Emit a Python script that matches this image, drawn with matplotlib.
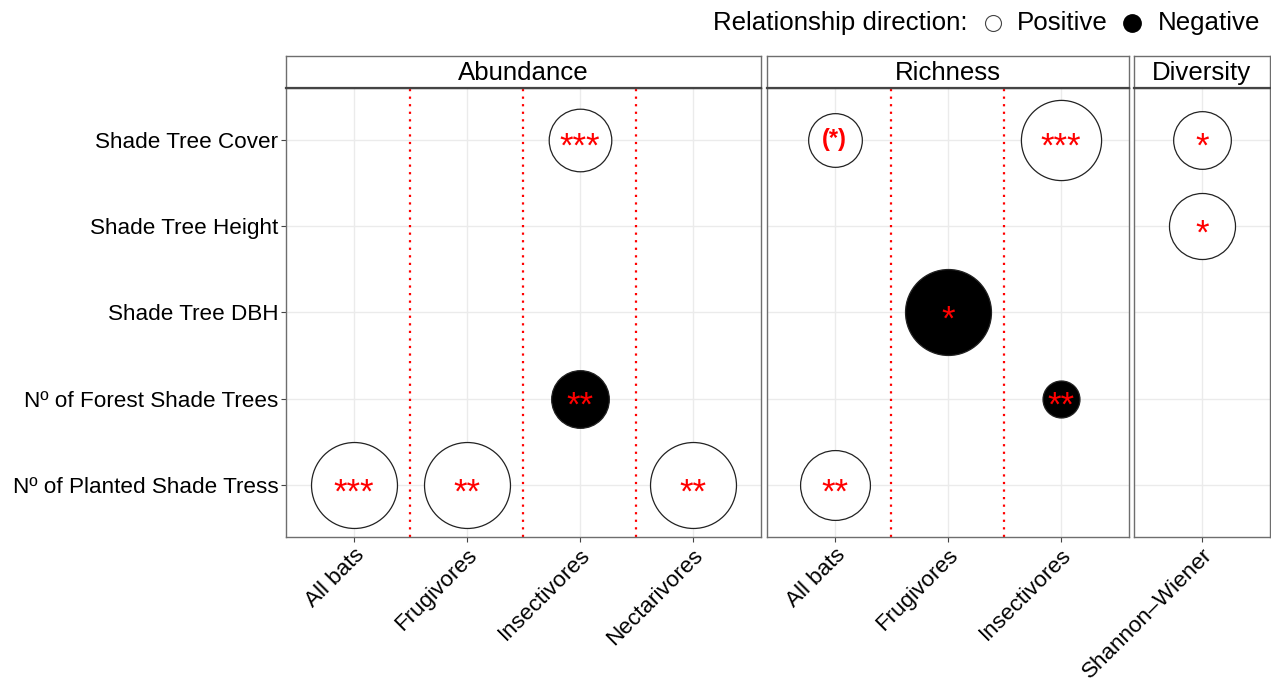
import matplotlib.pyplot as plt
from matplotlib.transforms import ScaledTranslation

plt.rcParams['font.family'] = ['Liberation Sans', 'DejaVu Sans']

# facets and their categories
panels = ['Abundance', 'Richness', 'Diversity']
panel_groups = {
    'Abundance': ['All bats', 'Frugivores', 'Insectivores', 'Nectarivores'],
    'Richness': ['All bats', 'Frugivores', 'Insectivores'],
    'Diversity': ['Shannon\u2013Wiener'],
}
predictors = ['Shade Tree Cover', 'Shade Tree Height', 'Shade Tree DBH',
              'N\u00ba of Forest Shade Trees', 'N\u00ba of Planted Shade Tress']

# significant relationships
pt_panel = ['Abundance', 'Abundance', 'Abundance', 'Abundance', 'Abundance',
            'Richness', 'Richness', 'Richness', 'Richness', 'Richness',
            'Diversity', 'Diversity']
pt_group = ['Insectivores', 'Insectivores', 'All bats', 'Frugivores', 'Nectarivores',
            'All bats', 'Insectivores', 'Frugivores', 'Insectivores', 'All bats',
            'Shannon\u2013Wiener', 'Shannon\u2013Wiener']
pt_predictor = ['Shade Tree Cover', 'N\u00ba of Forest Shade Trees',
                'N\u00ba of Planted Shade Tress', 'N\u00ba of Planted Shade Tress',
                'N\u00ba of Planted Shade Tress',
                'Shade Tree Cover', 'Shade Tree Cover', 'Shade Tree DBH',
                'N\u00ba of Forest Shade Trees', 'N\u00ba of Planted Shade Tress',
                'Shade Tree Cover', 'Shade Tree Height']
pt_direction = ['Positive', 'Negative', 'Positive', 'Positive', 'Positive',
                'Positive', 'Positive', 'Negative', 'Negative', 'Positive',
                'Positive', 'Positive']
pt_magnitude = [0.53, 0.45, 1.0, 1.0, 1.0,
                0.39, 0.87, 1.0, 0.185, 0.66,
                0.45, 0.59]
pt_signif = ['***', '**', '***', '**', '**',
             '(*)', '***', '*', '**', '**',
             '*', '*']

W, H = 1271, 678
fig = plt.figure(figsize=(W / 100, H / 100), dpi=100)

panel_left = {'Abundance': 286, 'Richness': 767, 'Diversity': 1134}
unit_px = 113
top_px, bottom_px = 88, 537
strip_top = 56
max_area = 3830
border_col = '#6e6e6e'
grid_col = '#ebebeb'
fs = 16.2      # axis labels
fs_big = 18.6  # strips and legend

ny = len(predictors)
ymap = {p: ny - i for i, p in enumerate(predictors)}
down = ScaledTranslation(0, -4 / 100, fig.dpi_scale_trans)

for k, pan in enumerate(panels):
    groups = panel_groups[pan]
    n = len(groups)
    wpx = (n + 0.2) * unit_px
    l = panel_left[pan]
    ax = fig.add_axes([l / W, 1 - bottom_px / H, wpx / W, (bottom_px - top_px) / H])
    ax.set_xlim(0.4, n + 0.6)
    ax.set_ylim(0.4, ny + 0.6)
    ax.set_xticks(range(1, n + 1))
    ax.set_xticklabels(groups, rotation=45, ha='right', va='top',
                       rotation_mode='anchor', fontsize=fs)
    ax.set_yticks([ymap[p] for p in predictors])
    ax.tick_params(colors='#444444', labelcolor='black', length=3.5, width=0.8, pad=2)
    if k == 0:
        ax.set_yticklabels(predictors, fontsize=fs)
    else:
        ax.set_yticklabels([])
        ax.tick_params(axis='y', length=0)
    ax.grid(True, color=grid_col, lw=1.0, zorder=0)
    ax.set_axisbelow(True)
    for s in ax.spines.values():
        s.set_color(border_col)
        s.set_linewidth(1.0)
    if n > 1:
        for b in range(1, n):
            ax.axvline(b + 0.5, color='red', ls=(0, (1, 2.4)), lw=1.6, zorder=1)

    xmap = {g: i + 1 for i, g in enumerate(groups)}
    for pp, g, pr, d, m, sg in zip(pt_panel, pt_group, pt_predictor,
                                   pt_direction, pt_magnitude, pt_signif):
        if pp != pan:
            continue
        x, y = xmap[g], ymap[pr]
        face = 'black' if d == 'Negative' else 'white'
        ax.scatter([x], [y], s=max_area * m, facecolor=face, edgecolor='#222222',
                   linewidth=0.9, zorder=3)
        if sg == '(*)':
            ax.text(x, y, sg, color='red', fontsize=17, fontweight='bold',
                    ha='center', va='center', zorder=4)
        else:
            ax.text(x, y, sg, color='red', fontsize=25, ha='center',
                    va='center_baseline', zorder=4, transform=ax.transData + down)

    # strip
    sax = fig.add_axes([l / W, 1 - top_px / H, wpx / W, (top_px - strip_top) / H])
    sax.set_xticks([])
    sax.set_yticks([])
    for s in sax.spines.values():
        s.set_color(border_col)
        s.set_linewidth(1.0)
    sax.spines['bottom'].set_color('#444444')
    sax.spines['bottom'].set_linewidth(1.6)
    sax.text(0.5, 0.47, pan, ha='center', va='center', fontsize=fs_big,
             transform=sax.transAxes)

# legend at top, drawn on an overlay axes in pixel coordinates
lax = fig.add_axes([0, 1 - 45 / H, 1, 45 / H])
lax.set_xlim(0, W)
lax.set_ylim(45, 0)
lax.axis('off')
lax.text(713, 23, 'Relationship direction:', fontsize=fs_big, ha='left', va='center')
lax.plot([993], [23], ls='none', marker='o', markersize=11.5, markerfacecolor='white',
         markeredgecolor='#444444', markeredgewidth=0.8)
lax.text(1017, 23, 'Positive', fontsize=fs_big, ha='left', va='center')
lax.plot([1132], [23], ls='none', marker='o', markersize=12.5, markerfacecolor='black',
         markeredgecolor='black')
lax.text(1158, 23, 'Negative', fontsize=fs_big, ha='left', va='center')

fig.savefig('out.png', dpi=100, facecolor='white')
